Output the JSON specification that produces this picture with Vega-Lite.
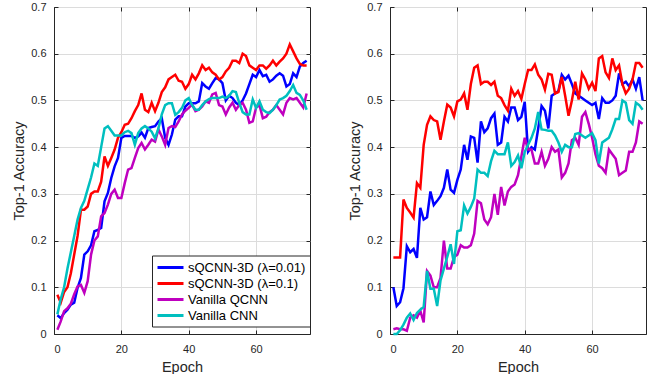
{
  "$schema": "https://vega.github.io/schema/vega-lite/v6.json",
  "background": "white",
  "padding": {"left": 11, "top": 0, "right": 5, "bottom": 0},
  "spacing": 34,
  "config": {
    "view": {"stroke": "#262626", "strokeWidth": 1},
    "font": "Liberation Sans",
    "axis": {
      "labelFont": "Liberation Sans", "labelFontSize": 11, "labelColor": "#262626",
      "titleFont": "Liberation Sans", "titleFontSize": 14.5, "titleFontWeight": "normal", "titleColor": "#262626",
      "gridColor": "#dcdcdc", "gridWidth": 1, "domainColor": "#262626", "tickColor": "#262626",
      "tickSize": -4, "labelPadding": 12, "titlePadding": 4
    },
    "axisX": {"labelPadding": 13, "titlePadding": 6},
    "legend": {
      "labelFont": "Liberation Sans", "labelFontSize": 13, "labelColor": "#000000",
      "symbolType": "M-1,0H3", "symbolSize": 169, "symbolStrokeWidth": 3,
      "strokeColor": "#262626", "fillColor": "#ffffff", "padding": 4, "labelOffset": 16, "rowPadding": 1
    }
  },
  "datasets": {
    "left": [
      {"epoch":1,"b":0.04,"r":0.084,"p":0.009,"c":0.042},
      {"epoch":2,"b":0.034,"r":0.067,"p":0.027,"c":0.075},
      {"epoch":3,"b":0.045,"r":0.09,"p":0.049,"c":0.1},
      {"epoch":4,"b":0.052,"r":0.1,"p":0.055,"c":0.14},
      {"epoch":5,"b":0.063,"r":0.13,"p":0.065,"c":0.175},
      {"epoch":6,"b":0.067,"r":0.17,"p":0.085,"c":0.21},
      {"epoch":7,"b":0.099,"r":0.21,"p":0.102,"c":0.245},
      {"epoch":8,"b":0.12,"r":0.266,"p":0.105,"c":0.27},
      {"epoch":9,"b":0.17,"r":0.266,"p":0.088,"c":0.285},
      {"epoch":10,"b":0.177,"r":0.273,"p":0.113,"c":0.31},
      {"epoch":11,"b":0.19,"r":0.3,"p":0.17,"c":0.335},
      {"epoch":12,"b":0.22,"r":0.305,"p":0.2,"c":0.365},
      {"epoch":13,"b":0.223,"r":0.305,"p":0.209,"c":0.36},
      {"epoch":14,"b":0.227,"r":0.326,"p":0.252,"c":0.4},
      {"epoch":15,"b":0.284,"r":0.38,"p":0.259,"c":0.44},
      {"epoch":16,"b":0.302,"r":0.36,"p":0.277,"c":0.445},
      {"epoch":17,"b":0.334,"r":0.377,"p":0.3,"c":0.435},
      {"epoch":18,"b":0.359,"r":0.395,"p":0.309,"c":0.425},
      {"epoch":19,"b":0.377,"r":0.42,"p":0.291,"c":0.425},
      {"epoch":20,"b":0.42,"r":0.432,"p":0.291,"c":0.425},
      {"epoch":21,"b":0.424,"r":0.448,"p":0.323,"c":0.432},
      {"epoch":22,"b":0.424,"r":0.45,"p":0.352,"c":0.435},
      {"epoch":23,"b":0.424,"r":0.462,"p":0.355,"c":0.43},
      {"epoch":24,"b":0.42,"r":0.477,"p":0.377,"c":0.405},
      {"epoch":25,"b":0.423,"r":0.49,"p":0.398,"c":0.43},
      {"epoch":26,"b":0.431,"r":0.515,"p":0.409,"c":0.44},
      {"epoch":27,"b":0.42,"r":0.48,"p":0.395,"c":0.445},
      {"epoch":28,"b":0.441,"r":0.475,"p":0.405,"c":0.44},
      {"epoch":29,"b":0.443,"r":0.495,"p":0.416,"c":0.433},
      {"epoch":30,"b":0.445,"r":0.477,"p":0.412,"c":0.419},
      {"epoch":31,"b":0.455,"r":0.495,"p":0.438,"c":0.44},
      {"epoch":32,"b":0.462,"r":0.518,"p":0.423,"c":0.47},
      {"epoch":33,"b":0.42,"r":0.528,"p":0.405,"c":0.49},
      {"epoch":34,"b":0.405,"r":0.545,"p":0.441,"c":0.494},
      {"epoch":35,"b":0.427,"r":0.55,"p":0.445,"c":0.494},
      {"epoch":36,"b":0.459,"r":0.555,"p":0.443,"c":0.469},
      {"epoch":37,"b":0.466,"r":0.542,"p":0.455,"c":0.475},
      {"epoch":38,"b":0.466,"r":0.54,"p":0.47,"c":0.484},
      {"epoch":39,"b":0.487,"r":0.525,"p":0.478,"c":0.5},
      {"epoch":40,"b":0.494,"r":0.535,"p":0.484,"c":0.505},
      {"epoch":41,"b":0.494,"r":0.555,"p":0.491,"c":0.49},
      {"epoch":42,"b":0.494,"r":0.545,"p":0.477,"c":0.48},
      {"epoch":43,"b":0.498,"r":0.558,"p":0.48,"c":0.48},
      {"epoch":44,"b":0.537,"r":0.575,"p":0.487,"c":0.49},
      {"epoch":45,"b":0.53,"r":0.565,"p":0.498,"c":0.498},
      {"epoch":46,"b":0.525,"r":0.57,"p":0.495,"c":0.503},
      {"epoch":47,"b":0.537,"r":0.56,"p":0.513,"c":0.505},
      {"epoch":48,"b":0.548,"r":0.555,"p":0.516,"c":0.505},
      {"epoch":49,"b":0.545,"r":0.545,"p":0.49,"c":0.505},
      {"epoch":50,"b":0.537,"r":0.55,"p":0.487,"c":0.508},
      {"epoch":51,"b":0.5,"r":0.562,"p":0.47,"c":0.505},
      {"epoch":52,"b":0.51,"r":0.57,"p":0.485,"c":0.51},
      {"epoch":53,"b":0.505,"r":0.585,"p":0.495,"c":0.52},
      {"epoch":54,"b":0.495,"r":0.585,"p":0.48,"c":0.518},
      {"epoch":55,"b":0.49,"r":0.58,"p":0.49,"c":0.495},
      {"epoch":56,"b":0.5,"r":0.6,"p":0.495,"c":0.475},
      {"epoch":57,"b":0.515,"r":0.595,"p":0.48,"c":0.47},
      {"epoch":58,"b":0.535,"r":0.575,"p":0.452,"c":0.47},
      {"epoch":59,"b":0.555,"r":0.57,"p":0.455,"c":0.502},
      {"epoch":60,"b":0.55,"r":0.565,"p":0.485,"c":0.484},
      {"epoch":61,"b":0.565,"r":0.575,"p":0.49,"c":0.498},
      {"epoch":62,"b":0.552,"r":0.575,"p":0.462,"c":0.48},
      {"epoch":63,"b":0.555,"r":0.568,"p":0.465,"c":0.475},
      {"epoch":64,"b":0.54,"r":0.575,"p":0.475,"c":0.473},
      {"epoch":65,"b":0.545,"r":0.585,"p":0.48,"c":0.48},
      {"epoch":66,"b":0.553,"r":0.575,"p":0.49,"c":0.49},
      {"epoch":67,"b":0.558,"r":0.583,"p":0.48,"c":0.502},
      {"epoch":68,"b":0.553,"r":0.59,"p":0.47,"c":0.505},
      {"epoch":69,"b":0.53,"r":0.6,"p":0.495,"c":0.51},
      {"epoch":70,"b":0.535,"r":0.62,"p":0.505,"c":0.52},
      {"epoch":71,"b":0.558,"r":0.605,"p":0.502,"c":0.533},
      {"epoch":72,"b":0.55,"r":0.59,"p":0.505,"c":0.516},
      {"epoch":73,"b":0.573,"r":0.578,"p":0.495,"c":0.512},
      {"epoch":74,"b":0.58,"r":0.575,"p":0.485,"c":0.5},
      {"epoch":75,"b":0.585,"r":0.575,"p":0.515,"c":0.48}
    ],
    "right": [
      {"epoch":1,"b":0.1,"r":0.164,"p":0.01,"c":0.0},
      {"epoch":2,"b":0.06,"r":0.164,"p":0.012,"c":0.0},
      {"epoch":3,"b":0.068,"r":0.164,"p":0.01,"c":0.008},
      {"epoch":4,"b":0.098,"r":0.288,"p":0.01,"c":0.02},
      {"epoch":5,"b":0.188,"r":0.27,"p":0.007,"c":0.035},
      {"epoch":6,"b":0.175,"r":0.26,"p":0.035,"c":0.044},
      {"epoch":7,"b":0.182,"r":0.249,"p":0.04,"c":0.03},
      {"epoch":8,"b":0.163,"r":0.323,"p":0.035,"c":0.045},
      {"epoch":9,"b":0.27,"r":0.313,"p":0.05,"c":0.052},
      {"epoch":10,"b":0.245,"r":0.405,"p":0.025,"c":0.058},
      {"epoch":11,"b":0.25,"r":0.448,"p":0.135,"c":0.135},
      {"epoch":12,"b":0.305,"r":0.466,"p":0.125,"c":0.097},
      {"epoch":13,"b":0.276,"r":0.458,"p":0.1,"c":0.097},
      {"epoch":14,"b":0.285,"r":0.455,"p":0.1,"c":0.06},
      {"epoch":15,"b":0.295,"r":0.416,"p":0.12,"c":0.115},
      {"epoch":16,"b":0.313,"r":0.455,"p":0.2,"c":0.14},
      {"epoch":17,"b":0.352,"r":0.491,"p":0.14,"c":0.165},
      {"epoch":18,"b":0.309,"r":0.485,"p":0.14,"c":0.192},
      {"epoch":19,"b":0.302,"r":0.466,"p":0.165,"c":0.15},
      {"epoch":20,"b":0.33,"r":0.498,"p":0.17,"c":0.22},
      {"epoch":21,"b":0.352,"r":0.502,"p":0.19,"c":0.222},
      {"epoch":22,"b":0.405,"r":0.515,"p":0.185,"c":0.275},
      {"epoch":23,"b":0.373,"r":0.48,"p":0.185,"c":0.258},
      {"epoch":24,"b":0.423,"r":0.535,"p":0.19,"c":0.272},
      {"epoch":25,"b":0.42,"r":0.57,"p":0.215,"c":0.29},
      {"epoch":26,"b":0.367,"r":0.575,"p":0.285,"c":0.352},
      {"epoch":27,"b":0.455,"r":0.535,"p":0.28,"c":0.345},
      {"epoch":28,"b":0.432,"r":0.54,"p":0.245,"c":0.345},
      {"epoch":29,"b":0.44,"r":0.54,"p":0.235,"c":0.338},
      {"epoch":30,"b":0.462,"r":0.533,"p":0.25,"c":0.37},
      {"epoch":31,"b":0.472,"r":0.54,"p":0.3,"c":0.392},
      {"epoch":32,"b":0.405,"r":0.51,"p":0.255,"c":0.385},
      {"epoch":33,"b":0.41,"r":0.505,"p":0.315,"c":0.385},
      {"epoch":34,"b":0.465,"r":0.49,"p":0.275,"c":0.385},
      {"epoch":35,"b":0.455,"r":0.478,"p":0.305,"c":0.41},
      {"epoch":36,"b":0.485,"r":0.525,"p":0.315,"c":0.36},
      {"epoch":37,"b":0.485,"r":0.51,"p":0.32,"c":0.368},
      {"epoch":38,"b":0.458,"r":0.52,"p":0.34,"c":0.382},
      {"epoch":39,"b":0.465,"r":0.503,"p":0.38,"c":0.355},
      {"epoch":40,"b":0.497,"r":0.535,"p":0.42,"c":0.39},
      {"epoch":41,"b":0.39,"r":0.565,"p":0.395,"c":0.405},
      {"epoch":42,"b":0.4,"r":0.565,"p":0.395,"c":0.42},
      {"epoch":43,"b":0.395,"r":0.577,"p":0.365,"c":0.44},
      {"epoch":44,"b":0.44,"r":0.555,"p":0.365,"c":0.475},
      {"epoch":45,"b":0.488,"r":0.545,"p":0.39,"c":0.438},
      {"epoch":46,"b":0.478,"r":0.523,"p":0.36,"c":0.437},
      {"epoch":47,"b":0.44,"r":0.557,"p":0.375,"c":0.435},
      {"epoch":48,"b":0.51,"r":0.555,"p":0.4,"c":0.435},
      {"epoch":49,"b":0.515,"r":0.515,"p":0.39,"c":0.425},
      {"epoch":50,"b":0.52,"r":0.518,"p":0.395,"c":0.41},
      {"epoch":51,"b":0.555,"r":0.55,"p":0.335,"c":0.39},
      {"epoch":52,"b":0.545,"r":0.51,"p":0.345,"c":0.405},
      {"epoch":53,"b":0.553,"r":0.467,"p":0.365,"c":0.4},
      {"epoch":54,"b":0.535,"r":0.5,"p":0.415,"c":0.4},
      {"epoch":55,"b":0.515,"r":0.54,"p":0.42,"c":0.428},
      {"epoch":56,"b":0.51,"r":0.502,"p":0.405,"c":0.43},
      {"epoch":57,"b":0.505,"r":0.558,"p":0.465,"c":0.425},
      {"epoch":58,"b":0.5,"r":0.545,"p":0.475,"c":0.42},
      {"epoch":59,"b":0.495,"r":0.525,"p":0.45,"c":0.425},
      {"epoch":60,"b":0.49,"r":0.538,"p":0.42,"c":0.43},
      {"epoch":61,"b":0.495,"r":0.52,"p":0.385,"c":0.415},
      {"epoch":62,"b":0.46,"r":0.59,"p":0.36,"c":0.365},
      {"epoch":63,"b":0.505,"r":0.595,"p":0.355,"c":0.41},
      {"epoch":64,"b":0.495,"r":0.56,"p":0.345,"c":0.415},
      {"epoch":65,"b":0.495,"r":0.548,"p":0.395,"c":0.42},
      {"epoch":66,"b":0.5,"r":0.59,"p":0.385,"c":0.438},
      {"epoch":67,"b":0.51,"r":0.565,"p":0.375,"c":0.46},
      {"epoch":68,"b":0.558,"r":0.575,"p":0.34,"c":0.46},
      {"epoch":69,"b":0.535,"r":0.535,"p":0.345,"c":0.5},
      {"epoch":70,"b":0.54,"r":0.515,"p":0.35,"c":0.495},
      {"epoch":71,"b":0.53,"r":0.525,"p":0.39,"c":0.458},
      {"epoch":72,"b":0.545,"r":0.545,"p":0.39,"c":0.45},
      {"epoch":73,"b":0.525,"r":0.58,"p":0.41,"c":0.495},
      {"epoch":74,"b":0.55,"r":0.58,"p":0.455,"c":0.49},
      {"epoch":75,"b":0.5,"r":0.57,"p":0.45,"c":0.48}
    ]
  },
  "hconcat": [
    {
      "width": 256, "height": 327,
      "data": {"name": "left"},
      "transform": [{"fold": ["b", "r", "p", "c"], "as": ["series", "acc"]}],
      "resolve": {"axis": {"x": "independent", "y": "independent"}},
      "layer": [
        {
          "mark": {"type": "line", "strokeWidth": 2.5},
          "encoding": {
            "x": {"field": "epoch", "type": "quantitative", "scale": {"domain": [0, 76], "nice": false},
                  "axis": {"values": [0, 20, 40, 60], "title": "Epoch", "grid": true}},
            "y": {"field": "acc", "type": "quantitative", "scale": {"domain": [0, 0.7], "nice": false},
                  "axis": {"values": [0, 0.1, 0.2, 0.3, 0.4, 0.5, 0.6, 0.7], "format": "~g", "title": "Top-1 Accuracy", "grid": true}},
            "color": {"field": "series", "type": "nominal",
                      "scale": {"domain": ["b", "r", "p", "c"], "range": ["#0000ff", "#ff0000", "#bf00bf", "#00bfbf"]},
                      "legend": {"orient": "none", "legendX": 98, "legendY": 248.5, "title": null,
                                 "labelFontSize": 13,
                                 "labelExpr": "datum.label == 'b' ? 'sQCNN-3D (λ=0.01)' : datum.label == 'r' ? 'sQCNN-3D (λ=0.1)' : datum.label == 'p' ? 'Vanilla QCNN' : 'Vanilla CNN'"}}
          }
        },
        {
          "mark": {"type": "line", "opacity": 0},
          "encoding": {
            "x": {"field": "epoch", "type": "quantitative",
                  "axis": {"orient": "top", "values": [0, 20, 40, 60], "labels": false, "title": null, "grid": false, "domain": false}},
            "y": {"field": "acc", "type": "quantitative",
                  "axis": {"orient": "right", "values": [0, 0.1, 0.2, 0.3, 0.4, 0.5, 0.6, 0.7], "labels": false, "title": null, "grid": false, "domain": false}},
            "detail": {"field": "series"}
          }
        }
      ]
    },
    {
      "width": 256, "height": 327,
      "data": {"name": "right"},
      "transform": [{"fold": ["b", "r", "p", "c"], "as": ["series", "acc"]}],
      "resolve": {"axis": {"x": "independent", "y": "independent"}},
      "layer": [
        {
          "mark": {"type": "line", "strokeWidth": 2.5},
          "encoding": {
            "x": {"field": "epoch", "type": "quantitative", "scale": {"domain": [0, 76], "nice": false},
                  "axis": {"values": [0, 20, 40, 60], "title": "Epoch", "grid": true}},
            "y": {"field": "acc", "type": "quantitative", "scale": {"domain": [0, 0.7], "nice": false},
                  "axis": {"values": [0, 0.1, 0.2, 0.3, 0.4, 0.5, 0.6, 0.7], "format": "~g", "title": "Top-1 Accuracy", "grid": true}},
            "color": {"field": "series", "type": "nominal",
                      "scale": {"domain": ["b", "r", "p", "c"], "range": ["#0000ff", "#ff0000", "#bf00bf", "#00bfbf"]},
                      "legend": null}
          }
        },
        {
          "mark": {"type": "line", "opacity": 0},
          "encoding": {
            "x": {"field": "epoch", "type": "quantitative",
                  "axis": {"orient": "top", "values": [0, 20, 40, 60], "labels": false, "title": null, "grid": false, "domain": false}},
            "y": {"field": "acc", "type": "quantitative",
                  "axis": {"orient": "right", "values": [0, 0.1, 0.2, 0.3, 0.4, 0.5, 0.6, 0.7], "labels": false, "title": null, "grid": false, "domain": false}},
            "detail": {"field": "series"}
          }
        }
      ]
    }
  ],
  "resolve": {"scale": {"color": "independent"}}
}
